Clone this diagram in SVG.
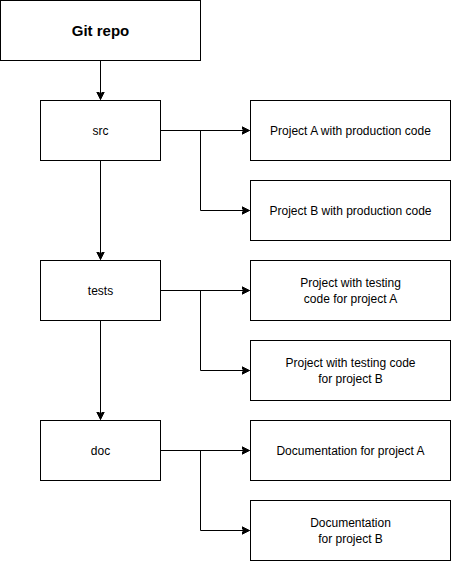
<svg xmlns="http://www.w3.org/2000/svg" width="451" height="561" viewBox="0 0 451 561">
<style>
rect{fill:#fff;stroke:#000;stroke-width:1}
text{font-family:"Liberation Sans",Arial,Helvetica,sans-serif;font-size:12px;fill:#000;text-anchor:middle}
.b{font-weight:bold;font-size:15px}
.c{fill:none;stroke:#000;stroke-width:1}
</style>
<defs>
<marker id="a" markerWidth="10" markerHeight="10" refX="8" refY="4" orient="auto" markerUnits="userSpaceOnUse" viewBox="0 0 10 8">
<path d="M0,0 L8,4 L0,8 L2,4 Z" fill="#000" stroke="#000" stroke-width="1"/>
</marker>
</defs>
<rect fill="#fff" stroke="none" x="0" y="0" width="451" height="561" style="stroke:none"/>
<g id="connectors">
<path class="c" d="M100.5,60.5 V99.5" marker-end="url(#a)"/>
<path class="c" d="M100.5,160.5 V259.5" marker-end="url(#a)"/>
<path class="c" d="M100.5,320.5 V419.5" marker-end="url(#a)"/>
<path class="c" d="M160.5,130.5 H249.5" marker-end="url(#a)"/>
<path class="c" d="M200.5,130.5 V210.5 H249.5" marker-end="url(#a)"/>
<path class="c" d="M160.5,290.5 H249.5" marker-end="url(#a)"/>
<path class="c" d="M200.5,290.5 V370.5 H249.5" marker-end="url(#a)"/>
<path class="c" d="M160.5,450.5 H249.5" marker-end="url(#a)"/>
<path class="c" d="M200.5,450.5 V530.5 H249.5" marker-end="url(#a)"/>
</g>
<g id="git"><rect x="0.5" y="0.5" width="200" height="60"/><text class="b" x="100.5" y="36">Git repo</text></g>
<g id="src"><rect x="40.5" y="100.5" width="120" height="60"/><text x="100.5" y="135">src</text></g>
<g id="tests"><rect x="40.5" y="260.5" width="120" height="60"/><text x="100.5" y="295">tests</text></g>
<g id="doc"><rect x="40.5" y="420.5" width="120" height="60"/><text x="100.5" y="455">doc</text></g>
<g id="pa"><rect x="250.5" y="100.5" width="200" height="60"/><text x="350.5" y="135">Project A with production code</text></g>
<g id="pb"><rect x="250.5" y="180.5" width="200" height="60"/><text x="350.5" y="215">Project B with production code</text></g>
<g id="ta"><rect x="250.5" y="260.5" width="200" height="60"/><text x="350.5" y="287">Project with testing</text><text x="350.5" y="303">code for project A</text></g>
<g id="tb"><rect x="250.5" y="340.5" width="200" height="60"/><text x="350.5" y="367">Project with testing code</text><text x="350.5" y="383">for project B</text></g>
<g id="da"><rect x="250.5" y="420.5" width="200" height="60"/><text x="350.5" y="455">Documentation for project A</text></g>
<g id="db"><rect x="250.5" y="500.5" width="200" height="60"/><text x="350.5" y="527">Documentation</text><text x="350.5" y="543">for project B</text></g>
</svg>
